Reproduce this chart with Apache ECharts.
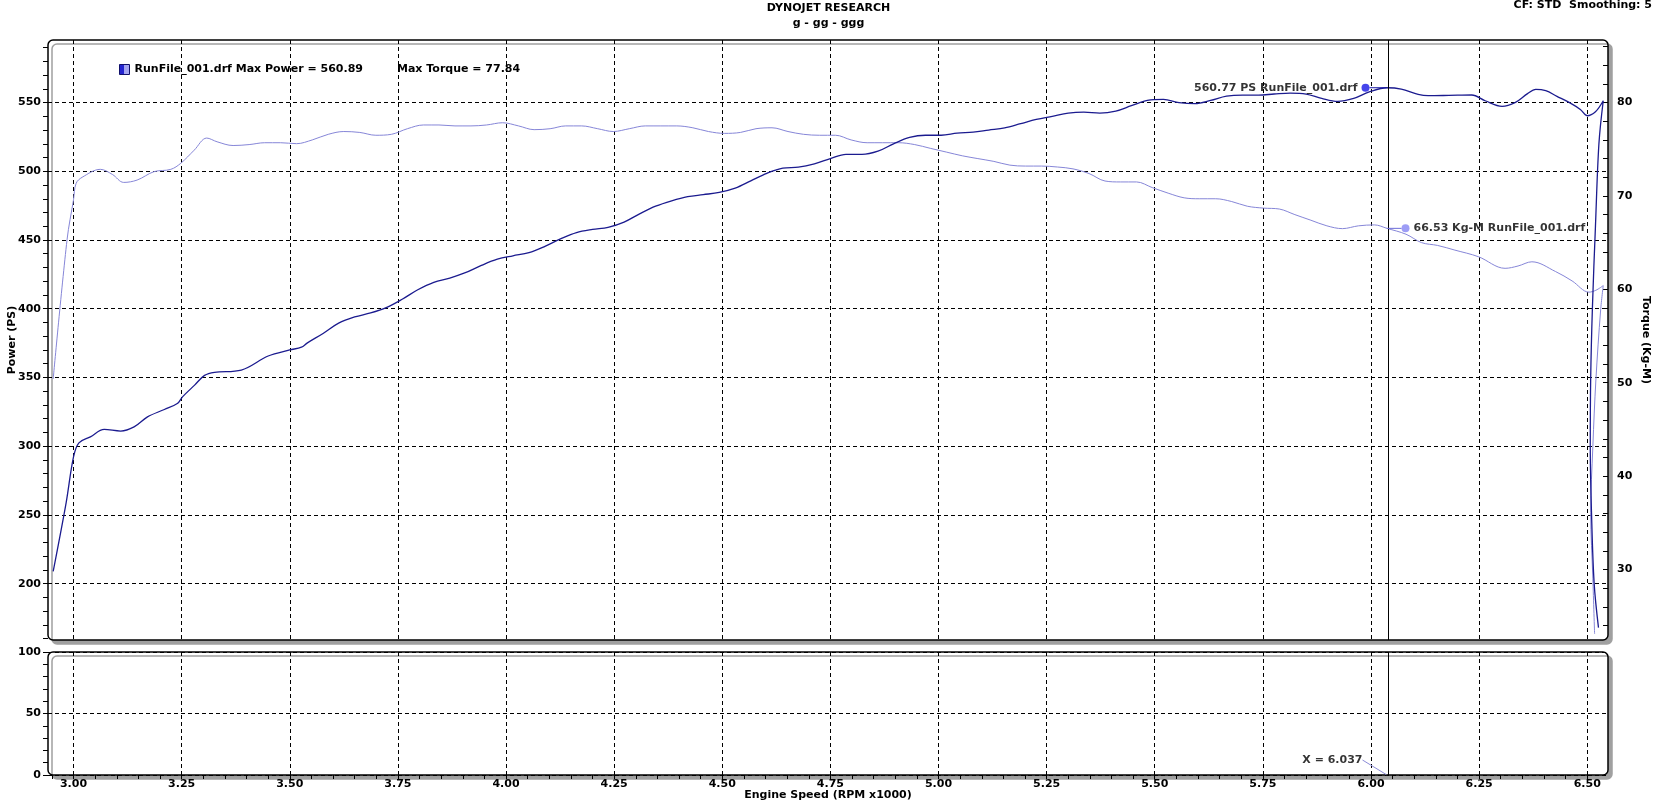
<!DOCTYPE html>
<html><head><meta charset="utf-8">
<script src="https://cdn.jsdelivr.net/npm/echarts@6/dist/echarts.min.js"></script>
<style>html,body{margin:0;padding:0;background:#fff;}#c{width:1657px;height:807px;}</style>
</head><body><div id="c"></div>
<script>
// ---------- data ----------
const runName = 'RunFile_001.drf';
const maxPower = 560.89;
const maxTorque = 77.84;
const cursorRpm = 6.037;
const cursorPower = 560.77;
const cursorTorque = 66.53;

const powerRpm = [2.953,2.983,3.0,3.0125,3.039,3.071,3.109,3.14,3.171,3.21,3.24,3.252,3.28,3.303,3.326,3.388,3.45,3.5,3.527,3.54,3.577,3.613,3.65,3.687,3.723,3.76,3.796,3.833,3.87,3.906,3.943,3.98,4.016,4.053,4.09,4.126,4.163,4.2,4.236,4.273,4.31,4.346,4.383,4.42,4.456,4.493,4.53,4.566,4.603,4.64,4.676,4.713,4.75,4.786,4.823,4.86,4.896,4.933,4.97,5.006,5.043,5.08,5.116,5.153,5.19,5.226,5.263,5.3,5.336,5.373,5.41,5.446,5.483,5.52,5.556,5.593,5.629,5.666,5.703,5.74,5.776,5.813,5.85,5.886,5.923,5.96,5.996,6.037,6.07,6.109,6.132,6.18,6.233,6.264,6.303,6.334,6.362,6.381,6.404,6.43,6.458,6.484,6.5,6.519,6.537,6.527,6.519,6.512,6.508,6.507,6.51,6.516,6.526];
const powerPS = [209,259,292.2,302.4,306.8,312.2,311,314,321.3,326.7,331,335.9,344.4,351.5,353.7,355.4,365.6,370,372,375,382,389.5,394,396.9,400.8,406.9,413.8,419.2,422.3,426.2,431.5,436,438.5,440.8,445.4,450.8,455.4,457.7,459.2,463,469.2,474.6,478.5,481.5,483,484.6,487.7,493,498.5,502.3,503,505.4,509.2,512.3,512.3,514.6,520,524.6,526.2,526.2,527.7,528.5,530,531.5,534.6,537.7,540,542.3,543,542.3,543.8,547.7,551.5,552.3,550,549.2,551.5,554.6,555.4,555.4,556.2,556.9,556.2,553,550.8,553,557.7,560.77,559.8,556,555,555.2,555.5,551.3,547.2,550.1,556.5,559.6,558.6,554.5,550.1,545,540.4,543.3,551.3,520,460,401,350,300,250,200,168];

const torqueRpm = [2.953,2.985,3.0,3.006,3.02,3.062,3.09,3.116,3.147,3.186,3.225,3.248,3.279,3.308,3.332,3.369,3.406,3.442,3.479,3.516,3.552,3.589,3.625,3.662,3.699,3.735,3.772,3.809,3.845,3.882,3.919,3.955,3.992,4.029,4.065,4.102,4.138,4.175,4.212,4.248,4.285,4.322,4.358,4.395,4.432,4.468,4.505,4.542,4.578,4.615,4.652,4.688,4.725,4.762,4.798,4.835,4.871,4.908,4.945,4.981,5.018,5.055,5.091,5.128,5.165,5.201,5.238,5.275,5.311,5.348,5.385,5.421,5.458,5.494,5.531,5.568,5.604,5.641,5.678,5.714,5.751,5.788,5.824,5.861,5.898,5.934,5.971,6.008,6.037,6.081,6.117,6.154,6.194,6.248,6.31,6.34,6.372,6.427,6.465,6.504,6.52,6.537,6.531,6.52,6.513,6.508,6.513,6.517];
const torqueKgm = [50.4,65.3,69.6,71.35,72.0,72.85,72.3,71.45,71.7,72.6,72.85,73.5,74.9,76.2,75.8,75.4,75.5,75.7,75.7,75.6,76.0,76.6,76.9,76.8,76.5,76.6,77.2,77.6,77.6,77.5,77.5,77.6,77.84,77.5,77.1,77.2,77.5,77.5,77.2,76.9,77.2,77.5,77.5,77.5,77.3,76.9,76.7,76.8,77.2,77.3,76.9,76.6,76.5,76.5,76.0,75.7,75.7,75.7,75.5,75.1,74.7,74.3,74.0,73.7,73.3,73.2,73.2,73.1,72.9,72.4,71.6,71.5,71.5,70.9,70.3,69.8,69.7,69.7,69.4,68.9,68.7,68.6,68.0,67.4,66.8,66.5,66.8,66.9,66.53,65.9,65.0,64.7,64.2,63.5,62.25,62.5,62.95,61.9,60.9,59.7,59.9,60.4,57.8,50.3,43.2,36.1,29.0,23.1];

// tick labels
const rpmTicks = [3.00,3.25,3.50,3.75,4.00,4.25,4.50,4.75,5.00,5.25,5.50,5.75,6.00,6.25,6.50];
const powerTicks = [200,250,300,350,400,450,500,550];
const torqueTicks = [30,40,50,60,70,80];
const lowerTicks = [0,50,100];

// axis ranges
const X_MIN = 2.941, X_MAX = 6.548;
const P_MIN = 159, P_MAX = 595.5;
const T_MIN = 22.45, T_MAX = 86.7;
const L_MIN = 0, L_MAX = 100;

// ---------- helpers ----------
function subTicks(majors, min, max, div) {
  const step = (majors[1] - majors[0]) / div;
  const start = majors[0] - Math.floor((majors[0] - min) / step + 1e-9) * step;
  const out = [];
  for (let i = 0; ; i++) {
    const v = start + i * step;
    if (v > max + 1e-9) break;
    out.push(+v.toFixed(6));
  }
  return out;
}
const F = 'DejaVu Sans';
const txt = {fontFamily: F, fontWeight: 'bold', fontSize: 11, color: '#000'};
const dash = {color: '#000', width: 1, type: [4, 3]};
const POWER_C = '#1b1b8f', TORQUE_C = '#8686d8';
const cursorLine = {
  symbol: ['none', 'none'], silent: true, animation: false,
  label: {show: false},
  lineStyle: {color: '#000', width: 1, type: 'solid'},
  emphasis: {disabled: true},
  data: [{xAxis: cursorRpm}]
};

const chart = echarts.init(document.getElementById('c'), null, {renderer: 'canvas', width: 1657, height: 807});

const option = {
  animation: false,
  backgroundColor: '#fff',
  title: [
    {text: 'DYNOJET RESEARCH', subtext: 'g - gg - ggg', left: 'center', top: 3, padding: 0, itemGap: 4,
     textStyle: Object.assign({}, txt), subtextStyle: Object.assign({}, txt)},
    {text: 'CF: STD  Smoothing: 5', right: 5, top: 0, padding: 0, textStyle: Object.assign({}, txt)}
  ],
  legend: {
    left: 119, top: 64, padding: 0, itemWidth: 10, itemHeight: 10, itemGap: 5,
    selectedMode: false,
    data: [{name: runName, icon: 'rect'}],
    itemStyle: {
      color: {type: 'linear', x: 0, y: 0, x2: 1, y2: 0, colorStops: [
        {offset: 0, color: '#2424d0'}, {offset: 0.5, color: '#2424d0'},
        {offset: 0.5, color: '#a4a4f0'}, {offset: 1, color: '#a4a4f0'}]},
      borderColor: '#10106a', borderWidth: 1
    },
    textStyle: Object.assign({}, txt, {rich: {a: Object.assign({}, txt), b: Object.assign({}, txt, {padding: [0, 0, 0, 34]})}}),
    formatter: name => `{a|${name} Max Power = ${maxPower.toFixed(2)}}{b|Max Torque = ${maxTorque.toFixed(2)}}`
  },
  graphic: [
    {type: 'rect', z: -10, silent: true, shape: {x: 48, y: 40, width: 1560, height: 600, r: 5},
     style: {fill: '#fff', stroke: '#000', lineWidth: 1.5, shadowBlur: 0, shadowColor: '#a0a0a0', shadowOffsetX: 4, shadowOffsetY: 4}},
    {type: 'rect', z: -10, silent: true, shape: {x: 48, y: 652, width: 1560, height: 123, r: 5},
     style: {fill: '#fff', stroke: '#000', lineWidth: 1.5, shadowBlur: 0, shadowColor: '#a0a0a0', shadowOffsetX: 4, shadowOffsetY: 4}}
  ],
  grid: [
    {left: 48, top: 40, width: 1560, height: 600, outerBoundsMode: 'none', containLabel: false},
    {left: 48, top: 652, width: 1560, height: 123, outerBoundsMode: 'none', containLabel: false}
  ],
  xAxis: [
    {gridIndex: 0, type: 'value', min: X_MIN, max: X_MAX, axisLine: {show: false},
     axisTick: {show: false, customValues: rpmTicks}, axisLabel: {show: false, customValues: rpmTicks},
     splitLine: {show: true, lineStyle: dash}},
    {gridIndex: 1, type: 'value', min: X_MIN, max: X_MAX, axisLine: {show: false},
     axisTick: {show: false, customValues: rpmTicks},
     axisLabel: Object.assign({show: true, customValues: rpmTicks, margin: 4, formatter: v => v.toFixed(2)}, txt),
     splitLine: {show: true, lineStyle: dash},
     name: 'Engine Speed (RPM x1000)', nameLocation: 'middle', nameGap: 15, nameMoveOverlap: false,
     nameTextStyle: Object.assign({}, txt)},
    {gridIndex: 1, type: 'value', min: X_MIN, max: X_MAX, axisLine: {show: false},
     axisTick: {show: true, inside: true, length: 4, customValues: subTicks(rpmTicks, X_MIN, X_MAX, 5), lineStyle: {color: '#000', width: 1}},
     axisLabel: {show: false}, splitLine: {show: false}}
  ],
  yAxis: [
    {gridIndex: 0, type: 'value', position: 'left', min: P_MIN, max: P_MAX, axisLine: {show: false},
     axisTick: {show: false, customValues: powerTicks},
     axisLabel: Object.assign({show: true, customValues: powerTicks, margin: 7}, txt),
     splitLine: {show: true, lineStyle: dash},
     name: 'Power (PS)', nameLocation: 'middle', nameGap: 30, nameMoveOverlap: false,
     nameTextStyle: Object.assign({}, txt)},
    {gridIndex: 0, type: 'value', position: 'left', min: P_MIN, max: P_MAX, axisLine: {show: false},
     axisTick: {show: true, length: 5, customValues: subTicks(powerTicks, P_MIN, P_MAX, 5), lineStyle: {color: '#000', width: 1}},
     axisLabel: {show: false}, splitLine: {show: false}},
    {gridIndex: 0, type: 'value', position: 'right', min: T_MIN, max: T_MAX, axisLine: {show: false},
     axisTick: {show: true, inside: true, length: 5, customValues: subTicks(torqueTicks, T_MIN, T_MAX, 5), lineStyle: {color: '#000', width: 1}},
     axisLabel: Object.assign({show: true, customValues: torqueTicks, margin: 9}, txt),
     splitLine: {show: false},
     name: 'Torque (Kg-M)', nameLocation: 'middle', nameGap: 32, nameRotate: -90, nameMoveOverlap: false,
     nameTextStyle: Object.assign({}, txt)},
    {gridIndex: 1, type: 'value', position: 'left', min: L_MIN, max: L_MAX, axisLine: {show: false},
     axisTick: {show: false, customValues: lowerTicks},
     axisLabel: Object.assign({show: true, customValues: lowerTicks, margin: 7}, txt),
     splitLine: {show: true, lineStyle: dash}},
    {gridIndex: 1, type: 'value', position: 'left', min: L_MIN, max: L_MAX, axisLine: {show: false},
     axisTick: {show: true, length: 5, customValues: subTicks(lowerTicks, L_MIN, L_MAX, 5), lineStyle: {color: '#000', width: 1}},
     axisLabel: {show: false}, splitLine: {show: false}}
  ],
  series: [
    {name: runName, type: 'line', xAxisIndex: 0, yAxisIndex: 0, showSymbol: false, smooth: 0.35,
     data: powerRpm.map((x, i) => [x, powerPS[i]]),
     lineStyle: {color: POWER_C, width: 1.3}, itemStyle: {color: POWER_C},
     emphasis: {disabled: true}, markLine: cursorLine, z: 3},
    {name: 'Torque', type: 'line', xAxisIndex: 0, yAxisIndex: 2, showSymbol: false, smooth: 0.35,
     data: torqueRpm.map((x, i) => [x, torqueKgm[i]]),
     lineStyle: {color: TORQUE_C, width: 1}, itemStyle: {color: TORQUE_C},
     emphasis: {disabled: true}, z: 2},
    {name: 'powerCursor', type: 'scatter', xAxisIndex: 0, yAxisIndex: 0, symbolSize: 1,
     itemStyle: {color: POWER_C}, data: [[cursorRpm, cursorPower]], z: 5,
     label: {show: true, position: 'left', distance: 0,
       formatter: () => `{t|${cursorPower.toFixed(2)} PS ${runName}}{d|}`,
       rich: {t: Object.assign({}, txt, {padding: [0, 4, 0, 0]}),
              d: {width: 8, height: 8, borderRadius: 4, backgroundColor: '#1616e6'}}},
     labelLayout: {dx: -17},
     labelLine: {show: true, lineStyle: {color: '#1616a0', width: 1}},
     emphasis: {disabled: true}},
    {name: 'torqueCursor', type: 'scatter', xAxisIndex: 0, yAxisIndex: 2, symbolSize: 1,
     itemStyle: {color: TORQUE_C}, data: [[cursorRpm, cursorTorque]], z: 5,
     label: {show: true, position: 'right', distance: 0,
       formatter: () => `{d|}{t|${cursorTorque.toFixed(2)} Kg-M ${runName}}`,
       rich: {t: Object.assign({}, txt, {padding: [0, 0, 0, 4]}),
              d: {width: 8, height: 8, borderRadius: 4, backgroundColor: '#8484f4'}}},
     labelLayout: {dx: 14},
     labelLine: {show: true, lineStyle: {color: '#6c6cd8', width: 1}},
     emphasis: {disabled: true}},
    {name: 'xCursor', type: 'scatter', xAxisIndex: 1, yAxisIndex: 3, symbolSize: 1,
     itemStyle: {color: '#000'}, data: [[cursorRpm, L_MIN]], z: 5,
     label: Object.assign({show: true, position: 'left', distance: 0,
       formatter: () => `X = ${cursorRpm.toFixed(3)}`}, txt),
     labelLayout: {dx: -24, dy: -15},
     labelLine: {show: true, lineStyle: {color: '#8c8cd8', width: 1}},
     markLine: cursorLine,
     emphasis: {disabled: true}}
  ]
};
chart.setOption(option);
</script>
</body></html>
